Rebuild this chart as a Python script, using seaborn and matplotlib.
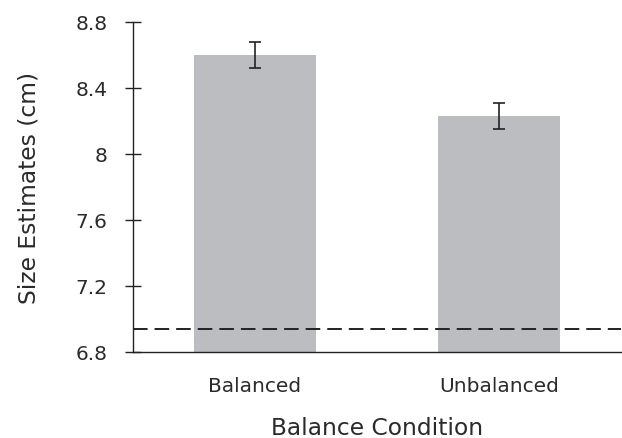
import pandas as pd
import matplotlib.pyplot as plt
import seaborn as sns

# Size estimates by balance condition, with error bars and a reference (dashed) line
conditions = ["Balanced", "Unbalanced"]
means = [8.60, 8.23]
errors = [0.08, 0.08]
reference_size = 6.94

y_ticks = [6.8, 7.2, 7.6, 8.0, 8.4, 8.8]
y_tick_labels = ["6.8", "7.2", "7.6", "8", "8.4", "8.8"]

df = pd.DataFrame({"Condition": conditions, "Size": means, "Err": errors})

sns.set_style("white")
plt.rcParams["font.family"] = ["DejaVu Sans"]
text_color = "#2a2a2a"

fig, ax = plt.subplots(figsize=(6.22, 4.39), dpi=100)
fig.subplots_adjust(left=0.214, right=0.998, top=0.948, bottom=0.196)

sns.barplot(data=df, x="Condition", y="Size", color="#bcbdc1", saturation=1,
            width=0.5, errorbar=None, linewidth=0, ax=ax)
ax.errorbar(x=range(len(df)), y=df["Size"], yerr=df["Err"], fmt="none",
            ecolor="#222222", elinewidth=1.2, capsize=4, capthick=1.2)

ax.axhline(reference_size, color="#222222", linewidth=1.4, dashes=(7.5, 3.6))

ax.set_ylim(6.8, 8.8)
ax.set_xlim(-0.5, 1.5)
ax.set_yticks(y_ticks)
ax.set_yticklabels(y_tick_labels)

sns.despine(ax=ax)
for side in ["left", "bottom"]:
    ax.spines[side].set_color("#222222")
    ax.spines[side].set_linewidth(1.0)

ax.tick_params(axis="y", left=True, direction="inout", length=11, width=1,
               color="#222222", labelsize=14.5, labelcolor=text_color, pad=13)
ax.tick_params(axis="x", bottom=False, length=0, labelsize=14.5,
               labelcolor=text_color, pad=17)

ax.set_xlabel("Balance Condition", fontsize=16.8, color=text_color, labelpad=15.5)
ax.set_ylabel("Size Estimates (cm)", fontsize=16.8, color=text_color, labelpad=25)

plt.savefig("out.png", dpi=100)
